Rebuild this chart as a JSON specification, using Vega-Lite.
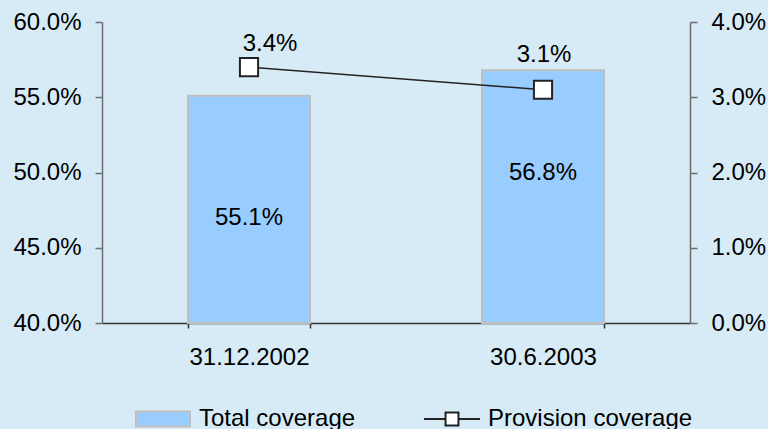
{
  "$schema": "https://vega.github.io/schema/vega-lite/v6.json",
  "width": 588,
  "height": 301,
  "autosize": {"type": "none"},
  "padding": {"left": 102, "top": 22, "right": 78, "bottom": 106},
  "background": "#D6EBF6",
  "config": {
    "view": {"stroke": null},
    "font": "Liberation Sans",
    "axis": {"labelFontSize": 24, "labelColor": "#000000", "labelFont": "Liberation Sans", "domainColor": "#6E6E6E", "tickColor": "#6E6E6E", "grid": false, "title": null, "domainWidth": 1.5, "tickWidth": 1.5},
    "legend": {"labelFontSize": 24, "labelFont": "Liberation Sans", "labelColor": "#000000", "title": null, "labelLimit": 0}
  },
  "data": {"values": [
    {"date": "31.12.2002", "total": 0.551, "provision": 0.034},
    {"date": "30.6.2003", "total": 0.568, "provision": 0.031}
  ]},
  "encoding": {
    "x": {"field": "date", "type": "nominal", "sort": null,
      "scale": {"paddingInner": 0.585, "paddingOuter": 0.2925},
      "axis": {"tickBand": "extent", "tickSize": 5, "labelPadding": 17, "labelAngle": 0, "domainColor": "#333333", "tickColor": "#333333", "title": null}}
  },
  "layer": [
    {
      "layer": [
        {
          "mark": {"type": "bar", "stroke": "#BFBFBF", "strokeWidth": 2},
          "encoding": {
            "y": {"field": "total", "type": "quantitative", "scale": {"domain": [0.4, 0.6], "zero": false, "nice": false},
              "axis": {"orient": "left", "values": [0.4, 0.45, 0.5, 0.55, 0.6], "format": ".1%", "tickSize": 7, "labelPadding": 14, "title": null}},
            "y2": {"datum": 0.4},
            "fill": {"datum": "Total coverage", "type": "nominal", "scale": {"range": ["#99CCFF"]},
              "legend": {"orient": "none", "legendX": 45, "legendY": 381, "symbolType": "M-1.8,-0.5H1.8V0.5H-1.8Z", "symbolSize": 900, "symbolStrokeColor": "#BFBFBF", "symbolStrokeWidth": 2, "labelOffset": 20}}
          }
        },
        {
          "transform": [{"filter": "datum.date === '31.12.2002'"}, {"calculate": "(datum.total + 0.4) / 2", "as": "mid"}],
          "mark": {"type": "text", "fontSize": 24, "baseline": "middle", "color": "#000000", "dy": 9},
          "encoding": {
            "y": {"field": "mid", "type": "quantitative"},
            "text": {"field": "total", "type": "quantitative", "format": ".1%"}
          }
        },
        {
          "transform": [{"filter": "datum.date === '30.6.2003'"}, {"calculate": "(datum.total + 0.4) / 2", "as": "mid"}],
          "mark": {"type": "text", "fontSize": 24, "baseline": "middle", "color": "#000000", "dy": -24},
          "encoding": {
            "y": {"field": "mid", "type": "quantitative"},
            "text": {"field": "total", "type": "quantitative", "format": ".1%"}
          }
        }
      ]
    },
    {
      "layer": [
        {
          "mark": {"type": "line", "strokeWidth": 1.5},
          "encoding": {
            "y": {"field": "provision", "type": "quantitative", "scale": {"domain": [0, 0.04], "nice": false},
              "axis": {"orient": "right", "values": [0, 0.01, 0.02, 0.03, 0.04], "format": ".1%", "tickSize": 7, "labelPadding": 14, "title": null}},
            "stroke": {"datum": "Provision coverage", "type": "nominal", "scale": {"range": ["#222222"]},
              "legend": {"orient": "none", "legendX": 334, "legendY": 381, "symbolType": "M-1.87,0H-0.43M0.43,0H1.87M-0.43,-0.43H0.43V0.43H-0.43Z", "symbolSize": 900, "symbolFillColor": "#FFFFFF", "symbolStrokeWidth": 2, "labelOffset": 20}}
          }
        },
        {
          "mark": {"type": "point", "shape": "square", "filled": true, "fill": "#FFFFFF", "stroke": "#222222", "strokeWidth": 2, "size": 330, "opacity": 1},
          "encoding": {
            "y": {"field": "provision", "type": "quantitative"}
          }
        },
        {
          "transform": [{"filter": "datum.date === '31.12.2002'"}],
          "mark": {"type": "text", "fontSize": 24, "baseline": "middle", "color": "#000000", "dx": 21, "dy": -23},
          "encoding": {
            "y": {"field": "provision", "type": "quantitative"},
            "text": {"field": "provision", "type": "quantitative", "format": ".1%"}
          }
        },
        {
          "transform": [{"filter": "datum.date === '30.6.2003'"}],
          "mark": {"type": "text", "fontSize": 24, "baseline": "middle", "color": "#000000", "dx": 1, "dy": -35},
          "encoding": {
            "y": {"field": "provision", "type": "quantitative"},
            "text": {"field": "provision", "type": "quantitative", "format": ".1%"}
          }
        }
      ]
    }
  ],
  "resolve": {"scale": {"y": "independent"}}
}
